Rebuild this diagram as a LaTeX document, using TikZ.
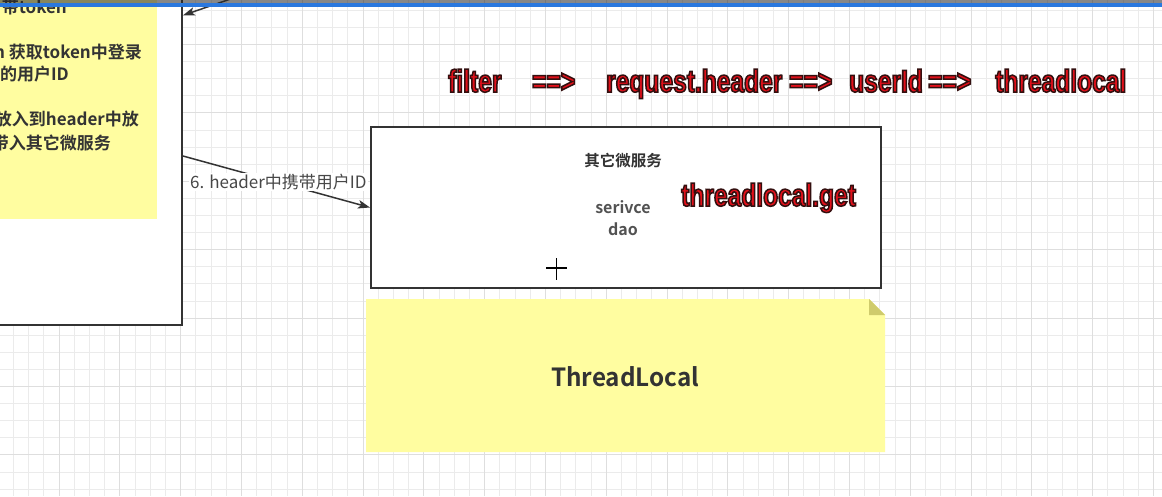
\documentclass[tikz,border=0pt]{standalone}
\usepackage{fontspec}
\setmainfont{Noto Sans CJK SC}[BoldFont={Noto Sans CJK SC Bold}]
\newfontfamily\redfont[FakeStretch=0.78]{Liberation Sans Bold}
\usetikzlibrary{arrows.meta,calc}
\definecolor{notey}{HTML}{FFFDA0}
\definecolor{foldc}{HTML}{CFCB6C}
\definecolor{gridminor}{HTML}{EBEBEB}
\definecolor{gridmajor}{HTML}{DEDEDE}
\definecolor{linec}{HTML}{333333}
\definecolor{txtc}{HTML}{333333}
\definecolor{redc}{HTML}{E2101A}
\definecolor{barblue}{HTML}{2A78DE}
\newcommand{\outl}[1]{\special{pdf:literal direct 2 Tr 1.5 w 0.2 0.06 0.06 RG}#1\special{pdf:literal direct 0 Tr 1 w}}
\begin{document}
\begin{tikzpicture}[x=1pt,y=-1pt,
  redtxt/.style={font=\redfont\fontsize{31.5}{36}\selectfont, text=redc, anchor=base west, inner sep=0pt},
  boxstyle/.style={draw=linec, line width=2pt, fill=white, inner sep=0pt},
  notestyle/.style={fill=notey, inner sep=0pt},
  notetxt/.style={font=\bfseries\fontsize{17}{20}\selectfont, text=txtc, inner sep=0pt, anchor=east},
  boxtxt/.style={font=\bfseries\fontsize{15.5}{19}\selectfont, text=txtc, inner sep=0pt},
  conn/.style={draw=linec, line width=1.5pt, -{Stealth[length=12pt,width=8.5pt,inset=3pt]}},
  lbl/.style={font=\fontsize{17}{20}\selectfont, text=txtc!90!white, fill=white, inner sep=1pt}
]
\useasboundingbox (0,0) rectangle (1162,496);
\fill[white] (0,0) rectangle (1162,496);
% grid
\foreach \i in {0,...,76}{\draw[gridminor, line width=0.8pt] ({13.4+15.2*\i},0) -- ({13.4+15.2*\i},496);}
\foreach \i in {0,...,28}{\draw[gridminor, line width=0.8pt] (0,{10.2+17.1*\i}) -- (1162,{10.2+17.1*\i});}
\foreach \i in {0,...,18}{\draw[gridmajor, line width=1pt] ({13.4+15.2*(4*\i+3)},0) -- ({13.4+15.2*(4*\i+3)},496);}
\foreach \i in {0,...,7}{\draw[gridmajor, line width=1pt] (0,{10.2+17.1*(4*\i+2)}) -- (1162,{10.2+17.1*(4*\i+2)});}

% left box and note
\node[boxstyle, minimum width=210pt, minimum height=338pt, anchor=south east] (lbox) at (183,326) {};
\node[notestyle, minimum width=177pt, minimum height=239pt, anchor=south east] (lnote) at (157,219) {};
\node[notetxt] (n1) at (67,7) {带token};
\node[notetxt] (n2) at (142,52) {n 获取token中登录};
\node[notetxt] (n3) at (69,74) {的用户ID};
\node[notetxt] (n4) at (139,119) {放入到header中放};
\node[notetxt] (n5) at (111,143) {带入其它微服务};

% right box
\node[boxstyle, minimum width=510pt, minimum height=161pt, anchor=north west] (rbox) at (370,126) {};
\node[boxtxt] (svc) at (623,161) {其它微服务};
\node[boxtxt, font=\bfseries\fontsize{16}{19}\selectfont, text=txtc!85!white] (serv) at (623,207) {serivce};
\node[boxtxt, font=\bfseries\fontsize{16}{19}\selectfont, text=txtc!85!white] (dao) at (623,229) {dao};
\draw[black, line width=1.3pt] (546,268) -- (567,268) (556.5,258) -- (556.5,280);

% ThreadLocal note
\fill[notey] (366,299) -- (869,299) -- (885,315) -- (885,452) -- (366,452) -- cycle;
\fill[foldc] (869,299) -- (869,315) -- (885,315) -- cycle;
\node[font=\bfseries\fontsize{25}{30}\selectfont, text=txtc, inner sep=0pt, xscale=0.97] (tl) at (625,377) {ThreadLocal};

% red texts
\node[redtxt] (t1) at (448,92) {\outl{filter}};
\node[redtxt] (t2) at (532,92) {\outl{==>}};
\node[redtxt] (t3) at (606,92) {\outl{request.header}};
\node[redtxt] (t4) at (789,92) {\outl{==>}};
\node[redtxt] (t5) at (849,92) {\outl{userId}};
\node[redtxt] (t6) at (928,92) {\outl{==>}};
\node[redtxt] (t7) at (995,92) {\outl{threadlocal}};
\node[redtxt] (tg) at (681,206) {\outl{threadlocal.get}};

% connectors
\coordinate (topsrc) at (245,-6);
\draw[conn] (topsrc) -- (lbox.53.13);
\draw[conn] (lbox.east) -- node[lbl, pos=0.51] (lab6) {6. header中携带用户ID} (rbox.west);

% top bar
\fill[black!85, opacity=0.55] (0,0) rectangle (1162,3.4);
\fill[barblue] (0,3.4) rectangle (1162,6.8);
\end{tikzpicture}
\end{document}
